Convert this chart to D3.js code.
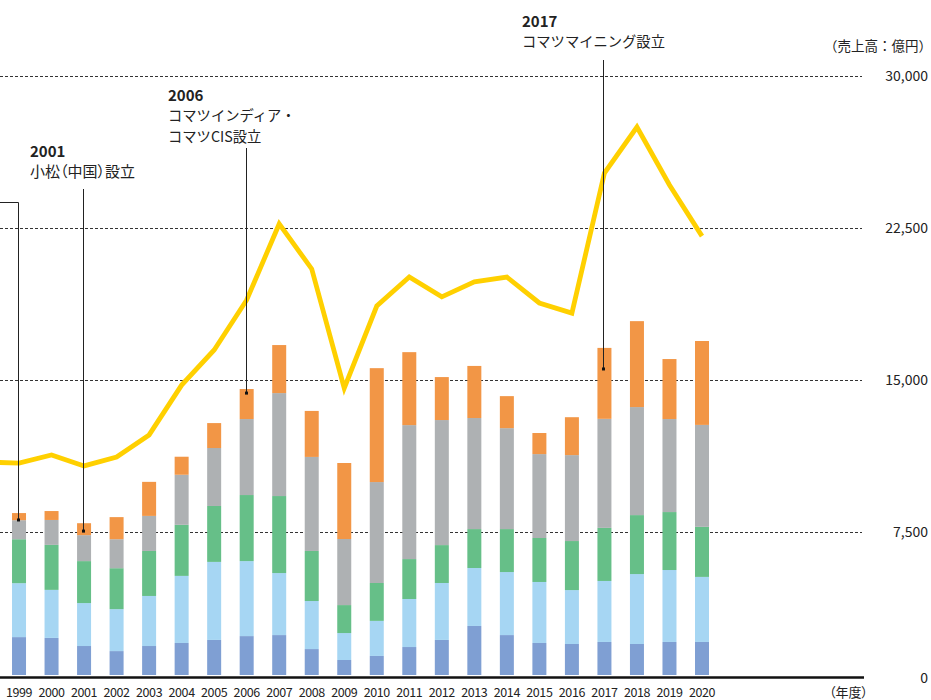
<!DOCTYPE html>
<html>
<head>
<meta charset="utf-8">
<script src="https://cdn.jsdelivr.net/npm/d3@7/dist/d3.min.js"></script>
<style>
  html, body { margin: 0; padding: 0; background: #fff; }
  svg { display: block; }
  text { font-family: "Noto Sans CJK JP", "Noto Sans", sans-serif; fill: #222; }
  .palt { font-feature-settings: "palt"; }
</style>
</head>
<body>
<svg id="chart" width="931" height="700"></svg>
<script>
// ---- data ----
const salesYears = [1998, 1999, 2000, 2001, 2002, 2003, 2004, 2005, 2006, 2007, 2008, 2009, 2010, 2011, 2012, 2013, 2014, 2015, 2016, 2017, 2018, 2019, 2020];
const sales = [10950, 10900, 11300, 10760, 11200, 12290, 14750, 16480, 18950, 22700, 20480, 14600, 18650, 20080, 19100, 19840, 20080, 18800, 18300, 25210, 27480, 24620, 22100];

const barYears = [1999, 2000, 2001, 2002, 2003, 2004, 2005, 2006, 2007, 2008, 2009, 2010, 2011, 2012, 2013, 2014, 2015, 2016, 2017, 2018, 2019, 2020];
const segA = [1870, 1830, 1430, 1180, 1430, 1580, 1730, 1920, 1970, 1280, 740, 940, 1380, 1730, 2420, 1970, 1580, 1530, 1630, 1530, 1630, 1630];
const segB = [2660, 2370, 2120, 2070, 2470, 3310, 3850, 3700, 3060, 2370, 1330, 1730, 2370, 2810, 2860, 3110, 3010, 2660, 3010, 3450, 3550, 3210];
const segC = [2170, 2220, 2070, 2020, 2220, 2520, 2760, 3260, 3800, 2470, 1380, 1870, 1970, 1870, 1920, 2120, 2170, 2420, 2620, 2910, 2860, 2470];
const segD = [940, 1230, 1280, 1430, 1730, 2470, 2860, 3750, 5080, 4640, 3260, 4980, 6610, 6170, 5480, 4980, 4140, 4240, 5380, 5330, 4590, 5030];
const segE = [350, 440, 590, 1090, 1680, 890, 1230, 1480, 2370, 2270, 3750, 5620, 3600, 2120, 2570, 1580, 1040, 1870, 3500, 4240, 2960, 4140];
const segColors = ["#7f9fd3", "#a6d6f3", "#66bf88", "#aeb1b3", "#f29646"];

const tickValues = [0, 7500, 15000, 22500, 30000];
const tickLabels = ["0", "7,500", "15,000", "22,500", "30,000"];

const annoYears = [1999, 2001, 2006, 2017];
const annoValues = [7650, 7100, 13910, 15100];
const annoTitles = ["", "2001", "2006", "2017"];
const annoLines = [[], ["小松（中国）設立"], ["コマツインディア・", "コマツCIS設立"], ["コマツマイニング設立"]];

// ---- layout ----
const svg = d3.select("#chart");
const x = d3.scalePoint().domain(salesYears).range([-13.5, 702]);
const y = d3.scaleLinear().domain([0, 30000]).range([684, 76]);
const yBar = d3.scaleLinear().domain([0, 30000]).range([675, 67]);
const barW = 14;
const gridRight = 862;
const baseY = 677.5;

// gridlines
const grid = svg.append("g");
tickValues.filter(v => v > 0).forEach(v => {
  grid.append("line")
    .attr("x1", 0).attr("x2", gridRight)
    .attr("y1", Math.round(y(v)) + 0.5).attr("y2", Math.round(y(v)) + 0.5)
    .attr("stroke", "#333").attr("stroke-width", 1)
    .attr("stroke-dasharray", "3,2");
});

// tick labels
tickValues.forEach((v, i) => {
  svg.append("text")
    .attr("x", 928)
    .attr("y", v === 0 ? baseY : y(v))
    .attr("dy", "0.36em")
    .attr("text-anchor", "end")
    .attr("font-size", 14)
    .text(tickLabels[i]);
});

svg.append("text").attr("x", 824).attr("y", 51)
  .attr("font-size", 13.5).text("（売上高：億円）");

// stacked bars
const rows = barYears.map((yr, i) => ({ year: yr, a: segA[i], b: segB[i], c: segC[i], d: segD[i], e: segE[i] }));
const stack = d3.stack().keys(["a", "b", "c", "d", "e"]);
const stacked = stack(rows);
svg.append("g").selectAll("g").data(stacked).join("g")
  .attr("fill", (d, i) => segColors[i])
  .selectAll("rect").data(d => d).join("rect")
  .attr("x", d => x(d.data.year) - barW / 2)
  .attr("width", barW)
  .attr("y", d => yBar(d[1]))
  .attr("height", d => yBar(d[0]) - yBar(d[1]));

// baseline
svg.append("line").attr("x1", 0).attr("x2", 864)
  .attr("y1", baseY).attr("y2", baseY)
  .attr("stroke", "#111").attr("stroke-width", 2.5);

// year labels
barYears.forEach(yr => {
  svg.append("text").attr("x", x(yr)).attr("y", 697)
    .attr("text-anchor", "middle").attr("font-size", 12.5)
    .attr("letter-spacing", "-0.4")
    .text(yr);
});
svg.append("text").attr("x", 829).attr("y", 697).attr("class", "palt")
  .attr("font-size", 13).text("（年度）");

// sales line
const line = d3.line().x((d, i) => x(salesYears[i])).y(d => y(d));
svg.append("path").datum(sales)
  .attr("d", line)
  .attr("fill", "none")
  .attr("stroke", "#ffd000")
  .attr("stroke-width", 4.8)
  .attr("stroke-linejoin", "miter");

// annotations
const annoTop = [202, 189, 148, 60];
const annoTextX = [-100, 30, 168, 522];
const annoTextY = [0, 157, 101, 27];
annoYears.forEach((yr, i) => {
  const ax = Math.round(x(yr)) - 0.5;
  const ay = yBar(annoValues[i]);
  const g = svg.append("g");
  if (i === 0) {
    g.append("path").attr("d", `M0,${annoTop[i] + 0.5}H${ax}V${ay}`)
      .attr("fill", "none").attr("stroke", "#222").attr("stroke-width", 1);
  } else {
    g.append("line").attr("x1", ax).attr("x2", ax)
      .attr("y1", annoTop[i]).attr("y2", ay)
      .attr("stroke", "#222").attr("stroke-width", 1);
  }
  g.append("rect").attr("x", ax - 1.5).attr("y", ay - 1.5)
    .attr("width", 3).attr("height", 3).attr("fill", "#111");
  if (annoTitles[i]) {
    g.append("text").attr("x", annoTextX[i]).attr("y", annoTextY[i])
      .attr("font-size", 15).attr("font-weight", "bold")
      .text(annoTitles[i]);
    annoLines[i].forEach((t, j) => {
      const isParen = t.indexOf("（") >= 0;
      g.append("text").attr("x", annoTextX[i]).attr("y", annoTextY[i] + 20 + j * 21)
        .attr("class", isParen ? "palt" : null)
        .attr("font-size", isParen ? 15 : 14.3).text(t);
    });
  }
});
</script>
</body>
</html>
